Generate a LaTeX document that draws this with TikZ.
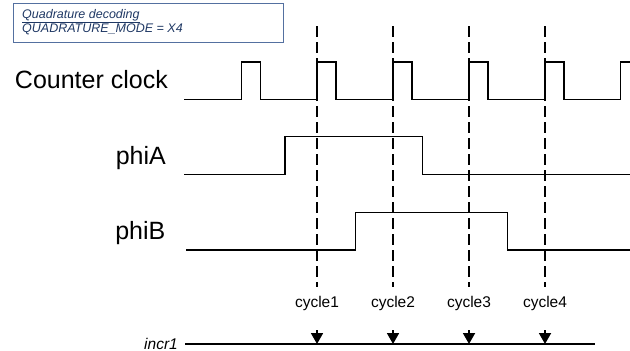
\documentclass[tikz,border=0pt]{standalone}
\usepackage{fontspec}
\setmainfont{Liberation Sans}
\usetikzlibrary{arrows.meta}
\definecolor{boxblue}{RGB}{84,112,160}
\definecolor{textblue}{RGB}{31,56,100}
\begin{document}
\begin{tikzpicture}[x=1pt,y=-1pt,
  sig/.style={line width=1.4pt, line join=miter},
  cyc/.style={line width=2.5pt, dash pattern=on 11pt off 5pt},
  lbl/.style={anchor=base east, inner sep=0pt, font=\fontsize{25}{30}\selectfont},
  cyclbl/.style={anchor=base, inner sep=0pt, font=\fontsize{15.5}{18}\selectfont},
  incarrow/.style={line width=1.8pt, -{Triangle[length=11pt,width=12pt]}},
  boxtxt/.style={anchor=base west, inner sep=0pt, text=textblue, font=\fontsize{12.5}{14}\selectfont\itshape}]
\useasboundingbox (0,0) rectangle (630,351);

% mode box
\node[draw=boxblue, line width=1.2pt, minimum width=270pt, minimum height=39pt,
      anchor=north west, inner sep=0pt] (modebox) at (13,3) {};
\node[boxtxt] (mode1) at (22,18.5) {\underline{Quadrature decoding}};
\node[boxtxt] (mode2) at (22,32.5) {QUADRATURE\_MODE = X4};

% signal labels
\node[lbl] (lclk) at (168,88) {Counter clock};
\node[lbl] (lphiA) at (166,164.3) {phiA};
\node[lbl] (lphiB) at (165.5,239.3) {phiB};

% counter clock
\draw[sig] (184,99.5) -- (241.5,99.5) -- (241.5,62) -- (260.5,62) -- (260.5,99.5)
  -- (317,99.5) -- (317,62) -- (336,62) -- (336,99.5)
  -- (393,99.5) -- (393,62) -- (412,62) -- (412,99.5)
  -- (469,99.5) -- (469,62) -- (488,62) -- (488,99.5)
  -- (545,99.5) -- (545,62) -- (564,62) -- (564,99.5)
  -- (620.5,99.5) -- (620.5,62) -- (630,62);

% phiA
\draw[sig] (184,174.3) -- (285,174.3) -- (285,136.7) -- (422.3,136.7)
  -- (422.3,174.3) -- (630,174.3);

% phiB
\draw[sig] (186,250) -- (355.7,250) -- (355.7,212.3) -- (507.3,212.3)
  -- (507.3,250) -- (630,250);

% incr1 line
\coordinate (incS) at (185,344);
\coordinate (incE) at (595,344);
\draw[sig] (incS) -- (incE);
\node[anchor=base east, inner sep=0pt, font=\fontsize{15.5}{18}\selectfont\itshape] (lincr) at (178,349) {incr1};

% cycle markers
\foreach \i/\x in {1/317,2/393,3/469,4/545}{
  \coordinate (dtop\i) at (\x,26);
  \coordinate (dbot\i) at (\x,287);
  \draw[cyc] (dtop\i) -- (dbot\i);
  \node[cyclbl] (cyc\i) at (\x,307) {cycle\i};
  \coordinate (as\i) at (\x,330);
  \coordinate (ae\i) at (\x,344);
  \draw[incarrow] (as\i) -- (ae\i);
}
\end{tikzpicture}
\end{document}
